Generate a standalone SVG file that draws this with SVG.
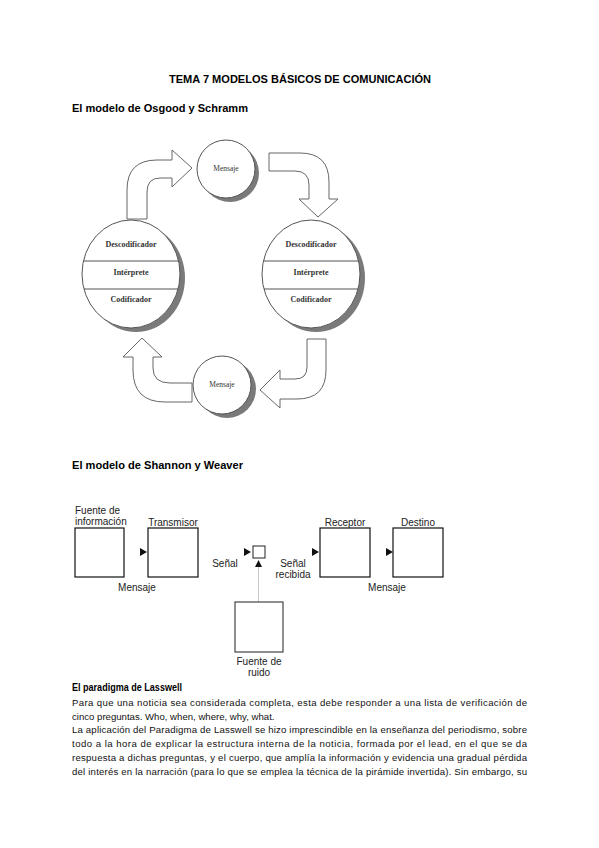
<svg xmlns="http://www.w3.org/2000/svg" width="599" height="848" viewBox="0 0 599 848">
<style>
.h{font-family:"Liberation Sans",Arial,sans-serif;font-weight:bold;font-size:10px;fill:#000}
.p{font-family:"Liberation Sans",Arial,sans-serif;font-size:9.6px;fill:#111}
.s{font-family:"Liberation Serif","Times New Roman",serif;font-weight:bold;font-size:8px;fill:#333;text-anchor:middle}
.m{font-family:"Liberation Serif","Times New Roman",serif;font-size:7.5px;fill:#333;text-anchor:middle}
.arr{fill:#fff;stroke:#666;stroke-width:1}
.sh{fill:#7a7a7a}
.c{fill:#fff;stroke:#555;stroke-width:1}
.dv{stroke:#555;stroke-width:1}
.sw{font-family:"Liberation Sans",Arial,sans-serif;font-size:10px;fill:#222}
.bx{fill:#fff;stroke:#111;stroke-width:1.2}
.tri{fill:#111}
</style>
<rect width="599" height="848" fill="#fff"/>
<text class="h" x="300" y="83" text-anchor="middle" textLength="262" lengthAdjust="spacingAndGlyphs">TEMA 7 MODELOS BÁSICOS DE COMUNICACIÓN</text>
<text class="h" x="72" y="112" textLength="176" lengthAdjust="spacingAndGlyphs">El modelo de Osgood y Schramm</text>

<g id="connectors">
<path class="arr" d="M127,219 L127,190 Q127,160 157,160 L172,160 L172,150 L192,168 L172,187 L172,178 L160,178 Q147,178 147,192 L147,219 Z"/>
<path class="arr" d="M269,153 L300,153 Q329,153 329,182 L329,199 L338,199 L318,217 L299,199 L309,199 L309,185 Q309,171 295,171 L269,171 Z"/>
<path class="arr" d="M307,339 L326,339 L326,370 Q326,399 297,399 L280,399 L280,408 L260,390 L280,370 L280,379 L295,379 Q307,379 307,367 Z"/>
<path class="arr" d="M192,383 L170,383 Q153,383 153,368 L153,357 L162,357 L142,338 L123,357 L133,357 L133,370 Q133,402 165,402 L192,402 Z"/>
<g id="sw-connectors">
<polygon class="tri" points="140,548 147,552 140,556"/>
<polygon class="tri" points="244,548 251,552 244,556"/>
<polygon class="tri" points="312,548 319,552 312,556"/>
<polygon class="tri" points="386,548 393,552 386,556"/>
<polygon class="tri" points="255,567 258.5,560 262,567"/>
<line x1="258.5" y1="567" x2="258.5" y2="602" stroke="#bbb" stroke-width="0.8"/>
</g>
</g>

<g id="mensaje-top">
<circle class="sh" cx="230" cy="173" r="29"/>
<circle class="c" cx="226" cy="169" r="29"/>
<text class="m" x="226" y="171">Mensaje</text>
</g>
<g id="emisor">
<ellipse class="sh" cx="136" cy="278" rx="49" ry="54"/>
<ellipse class="c" cx="131" cy="274" rx="49" ry="54"/>
<line class="dv" x1="83.4" y1="261" x2="178.6" y2="261"/>
<line class="dv" x1="83.9" y1="289" x2="178.1" y2="289"/>
<text class="s" x="131" y="247">Descodificador</text>
<text class="s" x="131" y="275">Intérprete</text>
<text class="s" x="131" y="302">Codificador</text>
</g>
<g id="receptor">
<ellipse class="sh" cx="316" cy="278" rx="49" ry="54"/>
<ellipse class="c" cx="311" cy="274" rx="49" ry="54"/>
<line class="dv" x1="263.4" y1="261" x2="358.6" y2="261"/>
<line class="dv" x1="263.9" y1="289" x2="358.1" y2="289"/>
<text class="s" x="311" y="247">Descodificador</text>
<text class="s" x="311" y="275">Intérprete</text>
<text class="s" x="311" y="302">Codificador</text>
</g>
<g id="mensaje-bottom">
<circle class="sh" cx="227" cy="389" r="29"/>
<circle class="c" cx="222" cy="385" r="29"/>
<text class="m" x="222" y="387">Mensaje</text>
</g>

<text class="h" x="72" y="469" textLength="171" lengthAdjust="spacingAndGlyphs">El modelo de Shannon y Weaver</text>

<g id="fuente">
<text class="sw" x="75" y="514">Fuente de</text>
<text class="sw" x="75" y="525">información</text>
<rect class="bx" x="75" y="528" width="49" height="49"/>
<text class="sw" x="137" y="591" text-anchor="middle">Mensaje</text>
</g>
<g id="transmisor">
<text class="sw" x="173" y="526" text-anchor="middle">Transmisor</text>
<rect class="bx" x="148" y="528" width="50" height="49"/>
</g>
<g id="senal">
<text class="sw" x="225" y="567" text-anchor="middle">Señal</text>
<rect x="253" y="546" width="12" height="12" fill="#fff" stroke="#222" stroke-width="1"/>
<text class="sw" x="293" y="567" text-anchor="middle">Señal</text>
<text class="sw" x="293" y="578" text-anchor="middle">recibida</text>
</g>
<g id="receptor-sw">
<text class="sw" x="345" y="526" text-anchor="middle">Receptor</text>
<rect class="bx" x="320" y="528" width="50" height="49"/>
<text class="sw" x="387" y="591" text-anchor="middle">Mensaje</text>
</g>
<g id="destino">
<text class="sw" x="418" y="526" text-anchor="middle">Destino</text>
<rect class="bx" x="393" y="528" width="50" height="49"/>
</g>
<g id="ruido">
<rect x="235" y="602" width="48" height="50" fill="#fff" stroke="#333" stroke-width="1.1"/>
<text class="sw" x="259" y="665" text-anchor="middle">Fuente de</text>
<text class="sw" x="259" y="676" text-anchor="middle">ruido</text>
</g>

<text class="h" x="72" y="691" style="font-size:10px" textLength="110" lengthAdjust="spacingAndGlyphs">El paradigma de Lasswell</text>
<text class="p" x="72" y="706" textLength="455" lengthAdjust="spacing">Para que una noticia sea considerada completa, esta debe responder a una lista de verificación de</text>
<text class="p" x="72" y="720">cinco preguntas. Who, when, where, why, what.</text>
<text class="p" x="72" y="733" textLength="455" lengthAdjust="spacing">La aplicación del Paradigma de Lasswell se hizo imprescindible en la enseñanza del periodismo, sobre</text>
<text class="p" x="72" y="747" textLength="455" lengthAdjust="spacing">todo a la hora de explicar la estructura interna de la noticia, formada por el lead, en el que se da</text>
<text class="p" x="72" y="761" textLength="455" lengthAdjust="spacing">respuesta a dichas preguntas, y el cuerpo, que amplía la información y evidencia una gradual pérdida</text>
<text class="p" x="72" y="775" textLength="455" lengthAdjust="spacing">del interés en la narración (para lo que se emplea la técnica de la pirámide invertida). Sin embargo, su</text>
</svg>
